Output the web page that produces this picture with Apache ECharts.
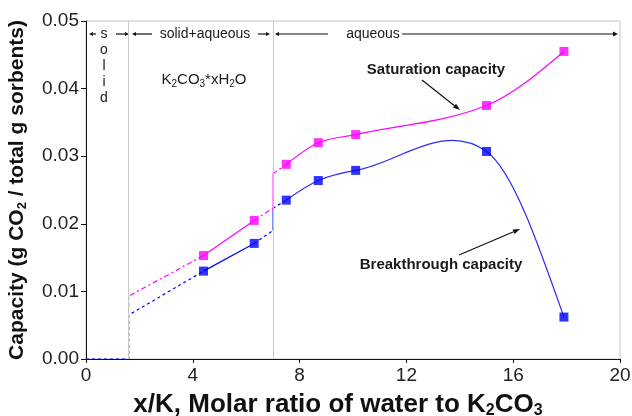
<!DOCTYPE html>
<html>
<head>
<meta charset="utf-8">
<script src="https://cdn.jsdelivr.net/npm/echarts@6/dist/echarts.min.js"></script>
<style>
  html, body { margin: 0; padding: 0; background: #fff; }
  #chart { width: 632px; height: 416px; }
</style>
</head>
<body>
<div id="chart"></div>
<script>
// Measured CO2 capacity versus hydration ratio x/K
const ratio        = [4.4, 6.3, 7.5, 8.7, 10.1, 15.0, 17.9];
const saturation   = [0.0153, 0.0205, 0.0288, 0.0320, 0.0332, 0.0375, 0.0455];
const breakthrough = [0.0130, 0.0171, 0.0235, 0.0264, 0.0279, 0.0307, 0.0062];

// Phase boundaries: solid | solid+aqueous | aqueous
const phaseBounds = [1.6, 7.0];

// Estimated capacities at the phase boundaries (extrapolated branches)
const satAtSolidEdge   = [0.0076, 0.0093];  // at x = 1.6
const brkAtSolidEdge   = [0.0, 0.0065];     // at x = 1.6
const satAtAqueousEdge = [0.0223, 0.0274];  // at x = 7.0
const brkAtAqueousEdge = [0.0190, 0.0223];  // at x = 7.0

const xTicks = [0, 4, 8, 12, 16, 20];
const yTicks = [0, 0.01, 0.02, 0.03, 0.04, 0.05];

const MAGENTA = '#ff00ff';
const BLUE = '#0000ff';
const FONT = 'Liberation Sans, Arial, sans-serif';

const pts = (xs, ys) => xs.map((x, i) => [x, ys[i]]);
const lo = phaseBounds[0], hi = phaseBounds[1];

function lineSeries(data, color, type, opts) {
  return Object.assign({
    type: 'line', data: data, symbol: 'none', silent: true, animation: false, z: 3,
    lineStyle: { color: color, width: 1.2, type: type }
  }, opts || {});
}

function markerSeries(xs, ys, color) {
  return {
    type: 'scatter', data: pts(xs, ys), animation: false, silent: true,
    symbol: 'rect', symbolSize: 9, z: 6, itemStyle: { color: color }
  };
}

// Cubic spline through the measured points (tangents from neighbouring points,
// free ends), drawn as Bezier segments mapped through the chart's axes.
function splineSeries(xs, ys, color) {
  const n = xs.length;
  const sec = [];
  for (let i = 0; i < n - 1; i++) sec.push((ys[i + 1] - ys[i]) / (xs[i + 1] - xs[i]));
  const tan = new Array(n);
  for (let i = 1; i < n - 1; i++) tan[i] = (ys[i + 1] - ys[i - 1]) / (xs[i + 1] - xs[i - 1]);
  tan[0] = (3 * sec[0] - tan[1]) / 2;
  tan[n - 1] = (3 * sec[n - 2] - tan[n - 2]) / 2;
  return {
    type: 'custom', coordinateSystem: 'cartesian2d', data: pts(xs, ys),
    silent: true, animation: false, z: 4,
    renderItem: function (params, api) {
      if (params.dataIndex !== 0) return null;
      const children = [];
      for (let i = 0; i < n - 1; i++) {
        const h = xs[i + 1] - xs[i];
        const p0 = api.coord([xs[i], ys[i]]);
        const c1 = api.coord([xs[i] + h / 3, ys[i] + tan[i] * h / 3]);
        const c2 = api.coord([xs[i + 1] - h / 3, ys[i + 1] - tan[i + 1] * h / 3]);
        const p1 = api.coord([xs[i + 1], ys[i + 1]]);
        children.push({
          type: 'bezierCurve',
          shape: { x1: p0[0], y1: p0[1], x2: p1[0], y2: p1[1], cpx1: c1[0], cpy1: c1[1], cpx2: c2[0], cpy2: c2[1] },
          style: { stroke: color, lineWidth: 1.2, fill: null }
        });
      }
      return { type: 'group', children: children };
    }
  };
}

const brkSolid = [[0, 0], [lo, brkAtSolidEdge[0]], [lo, brkAtSolidEdge[1]], [ratio[0], breakthrough[0]]];
const satSolid = [[lo, satAtSolidEdge[0]], [lo, satAtSolidEdge[1]], [ratio[0], saturation[0]]];

const series = [
  // Phase boundary guides
  lineSeries([], '#bbb', 'solid', {
    z: 1,
    markLine: {
      silent: true, symbol: 'none', label: { show: false }, animation: false,
      lineStyle: { color: '#c8c8c8', width: 1, type: 'solid' },
      data: phaseBounds.map(v => ({ xAxis: v }))
    }
  }),
  // Extrapolated branches across the phase changes
  lineSeries(brkSolid, BLUE, [3, 3]),
  lineSeries(satSolid, MAGENTA, [5, 3, 2, 3]),
  lineSeries([[ratio[1], breakthrough[1]], [hi, brkAtAqueousEdge[0]]], BLUE, [3, 3]),
  lineSeries([[hi, brkAtAqueousEdge[0]], [hi, brkAtAqueousEdge[1]]], '#5060ff', 'solid'),
  lineSeries([[hi, brkAtAqueousEdge[1]], [ratio[2], breakthrough[2]]], BLUE, [3, 3]),
  lineSeries([[ratio[1], saturation[1]], [hi, satAtAqueousEdge[0]]], MAGENTA, [5, 3, 2, 3]),
  lineSeries([[hi, satAtAqueousEdge[0]], [hi, satAtAqueousEdge[1]]], '#ff60ff', 'solid'),
  lineSeries([[hi, satAtAqueousEdge[1]], [ratio[2], saturation[2]]], MAGENTA, [5, 3, 2, 3]),
  // Solid-hydrate region: straight segments
  lineSeries(pts(ratio.slice(0, 2), saturation.slice(0, 2)), MAGENTA, 'solid'),
  lineSeries(pts(ratio.slice(0, 2), breakthrough.slice(0, 2)), BLUE, 'solid'),
  // Aqueous region: spline curves
  splineSeries(ratio.slice(2), saturation.slice(2), MAGENTA),
  splineSeries(ratio.slice(2), breakthrough.slice(2), '#2a2aff'),
  // Measured points
  markerSeries(ratio, saturation, MAGENTA),
  markerSeries(ratio, breakthrough, BLUE)
];

// Annotation helpers
function arrow(x1, y1, x2, y2, headLen, headHalf) {
  headLen = headLen || 6; headHalf = headHalf || 2.5;
  const ang = Math.atan2(y2 - y1, x2 - x1);
  const bx = x2 - headLen * Math.cos(ang), by = y2 - headLen * Math.sin(ang);
  const nx = -Math.sin(ang) * headHalf, ny = Math.cos(ang) * headHalf;
  return {
    type: 'group', silent: true, children: [
      { type: 'line', shape: { x1: x1, y1: y1, x2: bx, y2: by }, style: { stroke: '#111', lineWidth: 1.2 } },
      { type: 'polygon', shape: { points: [[x2, y2], [bx + nx, by + ny], [bx - nx, by - ny]] }, style: { fill: '#111' } }
    ]
  };
}
function label(text, x, y, size, bold, align, extra) {
  return {
    type: 'text', x: x, y: y, silent: true,
    style: Object.assign({
      text: text, fill: '#1a1a1a', font: (bold ? 'bold ' : '') + size + 'px ' + FONT,
      textAlign: align || 'left', textVerticalAlign: 'middle'
    }, extra || {})
  };
}

const graphic = [
  // phase region headers
  arrow(96, 34, 89, 34, 4, 2),
  label('s\no\nl\ni\nd', 104, 66, 14, false, 'center', { lineHeight: 16 }),
  arrow(116, 34, 129, 34, 4, 2),
  arrow(152, 34, 132, 34, 4, 2),
  label('solid+aqueous', 205, 34, 14, false, 'center'),
  arrow(258, 34, 270, 34, 4, 2),
  arrow(328, 34, 275, 34, 4, 2),
  label('aqueous', 373, 34, 14, false, 'center'),
  arrow(402, 34, 618, 34, 5, 2.5),
  // hydrate formula
  {
    type: 'text', x: 204, y: 80, silent: true,
    style: {
      text: 'K{s|2}CO{s|3}*xH{s|2}O', font: '15px ' + FONT, fill: '#1a1a1a',
      textAlign: 'center', textVerticalAlign: 'middle',
      rich: { s: { fontSize: 10, fontFamily: FONT, fill: '#1a1a1a', padding: [8, 0, 0, 0] } }
    }
  },
  // series callouts
  label('Saturation capacity', 436, 70, 15, true, 'center'),
  arrow(422, 80, 460, 110, 7, 2.5),
  label('Breakthrough capacity', 441, 265, 15, true, 'center'),
  arrow(459, 255, 520, 229, 7, 2.5)
];

const chart = echarts.init(document.getElementById('chart'), null, { renderer: 'canvas' });
chart.setOption({
  animation: false,
  backgroundColor: '#fff',
  grid: {
    left: 86, right: 12, top: 21, bottom: 57, containLabel: false, outerBoundsMode: 'none',
    show: true, borderColor: '#c4c4c4', borderWidth: 1, backgroundColor: 'transparent'
  },
  xAxis: {
    type: 'value', min: xTicks[0], max: xTicks[xTicks.length - 1], interval: xTicks[1] - xTicks[0],
    name: 'x/K, Molar ratio of water to K{sub|2}CO{sub|3}', nameLocation: 'middle', nameGap: 31,
    nameTextStyle: {
      fontFamily: FONT, fontWeight: 'bold', fontSize: 26, color: '#111', padding: [0, 30, 0, 0],
      rich: { sub: { fontSize: 16, fontWeight: 'bold', fontFamily: FONT, padding: [13, 0, 0, 0] } }
    },
    axisLine: { show: true, onZero: false, lineStyle: { color: '#111', width: 1 } },
    axisTick: { show: true, length: 4, lineStyle: { color: '#111' } },
    axisLabel: { fontFamily: FONT, fontSize: 19, color: '#222', margin: 7 },
    splitLine: { show: false }
  },
  yAxis: {
    type: 'value', min: yTicks[0], max: yTicks[yTicks.length - 1], interval: yTicks[1] - yTicks[0],
    name: 'Capacity (g CO{sub|2} / total g sorbents)', nameLocation: 'middle', nameGap: 57, nameRotate: 90,
    nameTextStyle: { fontFamily: FONT, fontWeight: 'bold', fontSize: 21, color: '#111', rich: { sub: { fontSize: 13, fontWeight: 'bold', fontFamily: FONT, padding: [10, 0, 0, 0] } } },
    axisLine: { show: true, onZero: false, lineStyle: { color: '#111', width: 1 } },
    axisTick: { show: true, length: 5, lineStyle: { color: '#111' } },
    axisLabel: { fontFamily: FONT, fontSize: 19, color: '#222', margin: 7, formatter: v => v.toFixed(2) },
    splitLine: { show: false }
  },
  series: series,
  graphic: graphic
});
</script>
</body>
</html>
